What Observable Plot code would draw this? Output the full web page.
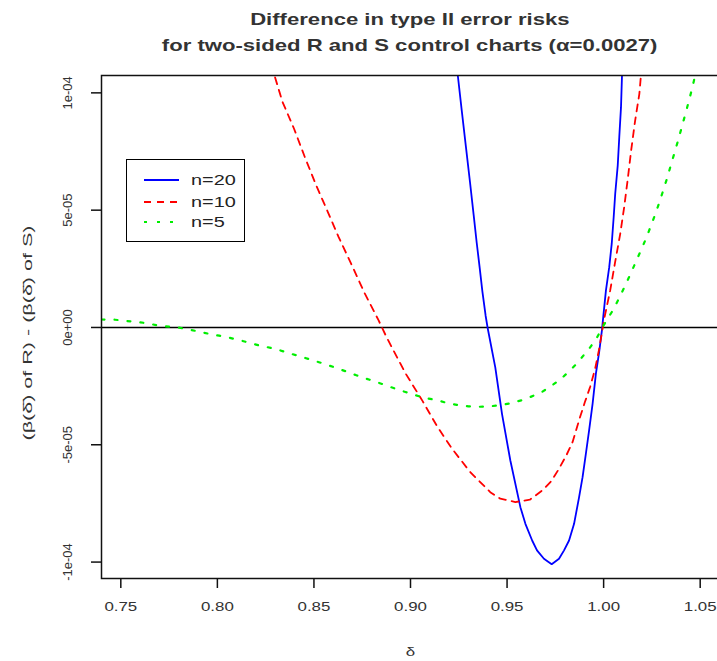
<!DOCTYPE html>
<html><head><meta charset="utf-8">
<script src="https://cdn.jsdelivr.net/npm/d3@7"></script>
<script src="https://cdn.jsdelivr.net/npm/@observablehq/plot@0.6"></script>
<style>
html,body{margin:0;padding:0;overflow:hidden;background:#fff;width:717px;height:661px;}
#wrap{position:relative;width:717px;height:661px;overflow:hidden;font-family:"Liberation Sans",Arial,sans-serif;}
#title{position:absolute;left:0;top:0;width:820px;padding-top:7px;text-align:center;font-weight:bold;font-size:17px;color:#333;}
#title div{height:26px;line-height:26px;}
#title span{display:inline-block;transform:scaleX(1.3);}
#chart{position:absolute;left:0;top:60px;width:725px;}
#legend{position:absolute;left:126px;top:159px;width:117px;height:81px;border:1.5px solid #000;background:#fff;}
</style></head><body>
<div id="wrap">
  <div id="title"><div><span>Difference in type II error risks</span></div><div><span>for two-sided R and S control charts (α=0.0027)</span></div></div>
  <div id="chart"></div>
  <div id="legend"></div>
</div>
<script>
// ---- data ----
const seriesNames = ["n=20", "n=10", "n=5"];

const delta20 = [0.9235, 0.9245, 0.9266, 0.9287, 0.9308, 0.9327, 0.9343, 0.9358, 0.9372, 0.9389, 0.9399, 0.9439, 0.9474, 0.9517, 0.9569, 0.9595, 0.9630, 0.9655, 0.9691, 0.9731, 0.9769, 0.9795, 0.9821, 0.9847, 0.9873, 0.9891, 0.9908, 0.9925, 0.9943, 0.9960, 0.9977, 0.9991, 0.9998, 1.0012, 1.0029, 1.0042, 1.0052, 1.0060, 1.0073, 1.0081, 1.0090, 1.0095, 1.0102];
const diff20 = [115e-6, 107.4e-6, 92e-6, 77e-6, 62e-6, 48e-6, 36e-6, 25.6e-6, 15.5e-6, 5e-6, 0, -17e-6, -36.9e-6, -56.7e-6, -76.6e-6, -83.7e-6, -90.8e-6, -95.0e-6, -98.6e-6, -100.9e-6, -98.6e-6, -95.0e-6, -90.8e-6, -83.7e-6, -72.3e-6, -63.8e-6, -53.9e-6, -43.8e-6, -32.5e-6, -19.7e-6, -10.4e-6, -1.3e-6, 4.4e-6, 15.8e-6, 25.7e-6, 35.7e-6, 47.0e-6, 57.0e-6, 69.0e-6, 81.1e-6, 93.9e-6, 107.1e-6, 118e-6];

const delta10 = [0.8285, 0.8297, 0.8336, 0.8397, 0.8453, 0.8510, 0.8571, 0.8628, 0.8693, 0.8762, 0.8835, 0.8870, 0.8906, 0.8976, 0.9062, 0.9139, 0.9217, 0.9309, 0.9413, 0.9465, 0.9543, 0.9618, 0.9685, 0.9731, 0.9769, 0.9807, 0.9839, 0.9878, 0.9903, 0.9930, 0.9956, 0.9977, 0.9993, 1.0003, 1.0034, 1.0059, 1.0086, 1.0107, 1.0125, 1.0142, 1.0163, 1.0185, 1.0191, 1.0200];
const diff10 = [112e-6, 107.1e-6, 96.4e-6, 84.7e-6, 72.6e-6, 60.9e-6, 49.4e-6, 38.5e-6, 27.1e-6, 14.7e-6, 3.0e-6, -3.1e-6, -8.9e-6, -19.8e-6, -31.3e-6, -42.3e-6, -51.9e-6, -61.6e-6, -70.2e-6, -73.0e-6, -74.4e-6, -73.4e-6, -69.3e-6, -65.3e-6, -60.2e-6, -54.5e-6, -48.9e-6, -38.2e-6, -31.8e-6, -25.4e-6, -17.6e-6, -9.1e-6, -1.3e-6, 3.7e-6, 15.8e-6, 27.6e-6, 39.9e-6, 51.6e-6, 63.3e-6, 75.1e-6, 88.1e-6, 99.6e-6, 105.3e-6, 115e-6];

const delta5 = [0.7400, 0.7470, 0.7524, 0.7587, 0.7646, 0.7698, 0.7802, 0.7854, 0.7906, 0.7956, 0.8010, 0.8063, 0.8115, 0.8168, 0.8219, 0.8276, 0.8323, 0.8368, 0.8418, 0.8479, 0.8522, 0.8574, 0.8618, 0.8668, 0.8720, 0.8766, 0.8823, 0.8877, 0.8928, 0.8974, 0.9026, 0.9076, 0.9135, 0.9182, 0.9240, 0.9300, 0.9357, 0.9413, 0.9469, 0.9524, 0.9576, 0.9616, 0.9680, 0.9720, 0.9774, 0.9816, 0.9861, 0.9894, 0.9930, 0.9965, 0.9993, 1.0047, 1.0076, 1.0116, 1.0151, 1.0189, 1.0220, 1.0255, 1.0281, 1.0307, 1.0330, 1.0351, 1.0385, 1.0415, 1.0443, 1.0460, 1.0467, 1.0490];
const diff5 = [3.4e-6, 3.3e-6, 2.8e-6, 2.4e-6, 1.6e-6, 0.8e-6, -0.1e-6, -0.9e-6, -1.8e-6, -2.7e-6, -3.5e-6, -4.4e-6, -5.4e-6, -6.6e-6, -7.7e-6, -8.7e-6, -9.7e-6, -10.9e-6, -12.1e-6, -13.6e-6, -14.7e-6, -16.1e-6, -17.3e-6, -18.8e-6, -20.4e-6, -21.7e-6, -23.2e-6, -24.8e-6, -26.3e-6, -27.5e-6, -28.9e-6, -30.0e-6, -31.0e-6, -32.0e-6, -33.0e-6, -33.6e-6, -33.8e-6, -33.6e-6, -33.1e-6, -32.2e-6, -31.0e-6, -29.8e-6, -27.5e-6, -25.4e-6, -22.3e-6, -19.1e-6, -15.4e-6, -12.1e-6, -8.5e-6, -4.4e-6, 0, 7.2e-6, 11.8e-6, 18.6e-6, 25.0e-6, 32.1e-6, 38.0e-6, 45.5e-6, 51.5e-6, 58.0e-6, 64.0e-6, 70.0e-6, 79.5e-6, 88.5e-6, 97.0e-6, 102.5e-6, 105e-6, 113e-6];

const xTicks = [0.75, 0.80, 0.85, 0.90, 0.95, 1.00, 1.05];
const xTickLabels = ["0.75", "0.80", "0.85", "0.90", "0.95", "1.00", "1.05"];
const yTicks = [-1e-4, -5e-5, 0, 5e-5, 1e-4];
const yTickLabels = ["-1e-04", "-5e-05", "0e+00", "5e-05", "1e-04"];
const xTitle = "δ";
const yTitle = "(β(δ\u0304) of R) - (β(δ\u0304) of S)";

// ---- styling ----
const styles = {
  "n=20": {stroke: "#0000ff", strokeWidth: 1.8, dash: null},
  "n=10": {stroke: "#ff0000", strokeWidth: 1.8, dash: "7,6"},
  "n=5":  {stroke: "#00ee00", strokeWidth: 2.2, dash: "3,10"}
};

const rows = (xs, ys, n) => xs.map((x, i) => ({delta: x, diff: ys[i], n}));
const d20 = rows(delta20, diff20, "n=20");
const d10 = rows(delta10, diff10, "n=10");
const d5 = rows(delta5, diff5, "n=5");

const lineMark = (data, name) => Plot.line(data, {
  x: "delta", y: "diff", stroke: styles[name].stroke, strokeWidth: styles[name].strokeWidth,
  strokeDasharray: styles[name].dash || undefined, clip: true
});

const W = 725;
const chart = Plot.plot({
  width: W, height: 601,
  marginLeft: 101, marginRight: W - 719, marginTop: 15, marginBottom: 83,
  style: {fontFamily: "Liberation Sans, Arial, sans-serif", fontSize: "13px", color: "#000", background: "transparent", overflow: "visible", maxWidth: "none"},
  x: {domain: [0.74, 1.06]},
  y: {domain: [-1.07e-4, 1.074e-4]},
  marks: [
    Plot.ruleY([0], {stroke: "#000", strokeWidth: 1.5}),
    lineMark(d20, "n=20"),
    lineMark(d10, "n=10"),
    lineMark(d5, "n=5"),
    Plot.frame({stroke: "#111", strokeWidth: 1.5}),
    Plot.axisX(xTicks, {tickSize: 10, fill: "none", stroke: "#111", strokeWidth: 1.5, label: null}),
    Plot.axisY(yTicks, {tickSize: 10, fill: "none", stroke: "#111", strokeWidth: 1.5, label: null}),
    Plot.text(xTicks, {x: d => d, text: (d, i) => xTickLabels[i], frameAnchor: "bottom", dy: 28, lineAnchor: "middle", fill: "#333"}),
    Plot.text(yTicks, {y: d => d, text: (d, i) => yTickLabels[i], frameAnchor: "left", dx: -34, rotate: -90, lineAnchor: "middle", textAnchor: "middle", fill: "#333"}),
    Plot.text([xTitle], {frameAnchor: "bottom", dy: 73, lineAnchor: "middle", fill: "#333"}),
    Plot.text([yTitle], {frameAnchor: "left", dx: -74, dy: 6, rotate: -90, lineAnchor: "middle", textAnchor: "middle", fill: "#333"})
  ]
});
document.getElementById("chart").appendChild(chart);

// widen horizontal texts as in the reference rendering
const wide = new Set([...xTickLabels, xTitle]);
chart.querySelectorAll("text").forEach(el => {
  const s = el.textContent;
  if (wide.has(s)) {
    el.setAttribute("transform", (el.getAttribute("transform") || "") + " scale(1.3,1)");
  } else if (s === yTitle) {
    el.setAttribute("textLength", 215);
    el.setAttribute("lengthAdjust", "spacingAndGlyphs");
  }
});

// legend
const rowsY = [20, 42, 62];
const leg = d3.select("#legend").append("svg").attr("width", 117).attr("height", 81).style("display", "block");
seriesNames.forEach((name, i) => {
  const s = styles[name];
  leg.append("line").attr("x1", 17).attr("x2", 52).attr("y1", rowsY[i]).attr("y2", rowsY[i])
    .attr("stroke", s.stroke).attr("stroke-width", s.strokeWidth)
    .attr("stroke-dasharray", s.dash);
  leg.append("text").attr("transform", `translate(64,${rowsY[i]}) scale(1.42,1)`)
    .attr("dy", "0.36em").attr("font-size", 14).attr("fill", "#222")
    .attr("font-family", "Liberation Sans, Arial, sans-serif").text(name);
});
</script>
</body></html>
